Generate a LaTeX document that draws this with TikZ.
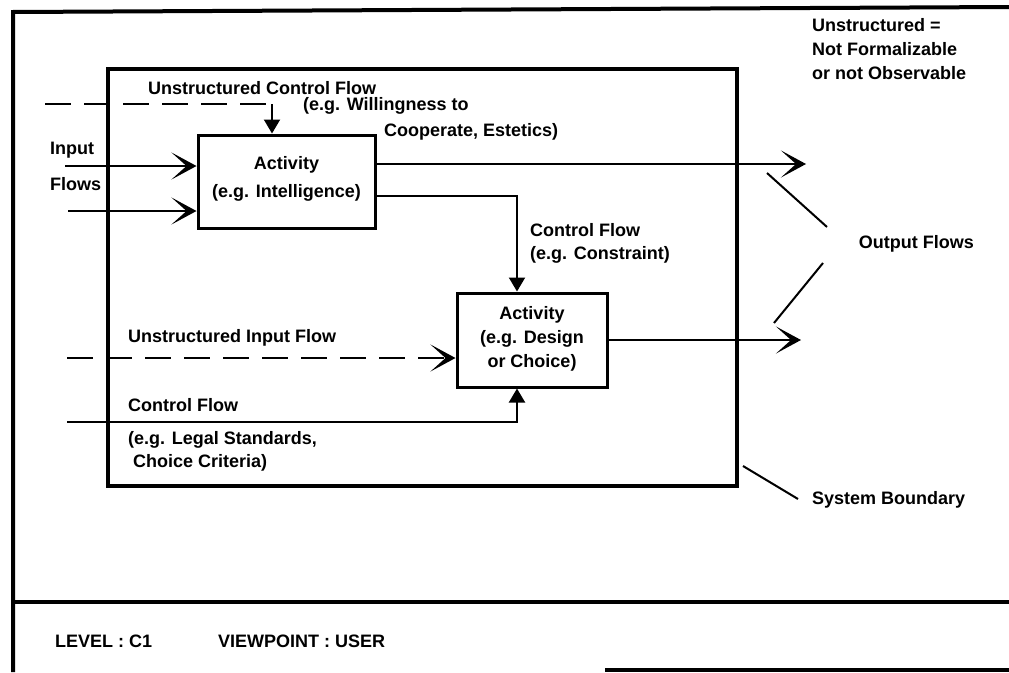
\documentclass[tikz,border=0pt]{standalone}
\usepackage{fontspec}
\setmainfont{Liberation Sans}
\usetikzlibrary{arrows.meta}
\tikzset{
  x=1pt, y=-1pt,
  lbl/.style={anchor=west, inner sep=0pt, font=\bfseries\fontsize{18}{23}\selectfont},
  actbox/.style={draw, line width=3pt, inner sep=0pt},
  acttext/.style={inner sep=0pt, align=center, font=\bfseries\fontsize{18}{24}\selectfont},
  flow/.style={line width=2pt},
  bigtip/.style={-{Stealth[length=25pt,width=27pt,inset=15pt]}},
  smalltip/.style={-{Triangle[length=14pt,width=16pt]}},
  dashflow/.style={line width=2pt, dash pattern=on 26pt off 13pt},
  pointer/.style={line width=2pt},
}
\begin{document}
\begin{tikzpicture}
\useasboundingbox (0,0) rectangle (1009,672);
% outer frame
\coordinate (ftr) at (1009,7);
\coordinate (ftl) at (13,12);
\coordinate (fbl) at (13,672);
\coordinate (fsl) at (13,602);
\coordinate (fsr) at (1009,602);
\coordinate (fbr) at (1009,670);
\coordinate (fbm) at (605,670);
\draw[line width=4pt] (ftr) -- (ftl) -- (fbl);
\draw[line width=4pt] (fsl) -- (fsr);
\draw[line width=4pt] (fbm) -- (fbr);
% system boundary
\node[draw, line width=4pt, minimum width=629pt, minimum height=417pt, inner sep=0pt] (sys) at (422.5,277.5) {};
% activities
\node[actbox, minimum width=177pt, minimum height=93pt] (act1) at (286.5,181.5) {};
\node[acttext] (act1t) at (286.5,179) {Activity\\[4pt](e.g. Intelligence)};
\node[actbox, minimum width=150pt, minimum height=94pt] (act2) at (532,340) {};
\node[acttext] (act2t) at (532,339) {Activity\\(e.g. Design\\or Choice)};
% coordinates
\coordinate (in1) at (65,166);
\coordinate (in2) at (68,211);
\coordinate (uc) at (45,104);
\coordinate (ucb) at (272,104);
\coordinate (o1) at (806,164);
\coordinate (cfb) at (517,196);
\coordinate (o2) at (801,340);
\coordinate (ui) at (67,358);
\coordinate (cb) at (67,422);
\coordinate (cbb) at (517,422);
% flows
\draw[flow,bigtip] (in1) -- (in1 -| act1.west);
\draw[flow,bigtip] (in2) -- (in2 -| act1.west);
\draw[dashflow] (uc) -- (ucb);
\draw[flow,smalltip] (ucb) -- (ucb |- act1.north);
\draw[flow,bigtip] (o1 -| act1.east) -- (o1);
\draw[flow,smalltip] (cfb -| act1.east) -- (cfb) -- (cfb |- act2.north);
\draw[flow,bigtip] (o2 -| act2.east) -- (o2);
\draw[dashflow,bigtip] (ui) -- (ui -| act2.west);
\draw[flow,smalltip] (cb) -- (cbb) -- (cbb |- act2.south);
% labels
\node[lbl] (tucf) at (148,88) {Unstructured Control Flow};
\node[lbl] (tucf2) at (303,106) {(e.g. Willingness to};
\node[lbl] (tucf3) at (384,132) {Cooperate, Estetics)};
\node[lbl] (tin1) at (50,150) {Input};
\node[lbl] (tin2) at (50,184) {Flows};
\node[lbl] (tcf) at (530,230) {Control Flow};
\node[lbl] (tcf2) at (530,255) {(e.g. Constraint)};
\node[lbl] (tui) at (128,338) {Unstructured Input Flow};
\node[lbl] (tcb) at (128,405) {Control Flow};
\node[lbl] (tcb2) at (128,440) {(e.g. Legal Standards,};
\node[lbl] (tcb3) at (133,463) {Choice Criteria)};
\node[lbl] (tuns1) at (812,25) {Unstructured =};
\node[lbl] (tuns2) at (812,49) {Not Formalizable};
\node[lbl] (tuns3) at (812,73) {or not Observable};
\node[lbl, anchor=east] (tout) at (974,244) {Output Flows};
\node[lbl] (tsb) at (812,500) {System Boundary};
\node[lbl] (tlev) at (55,641) {LEVEL : C1};
\node[lbl] (tvp) at (218,641) {VIEWPOINT : USER};
% pointer lines
\coordinate (p1a) at (767,173);
\coordinate (p1b) at (827,227);
\coordinate (p2a) at (774,323);
\coordinate (p2b) at (823,263);
\coordinate (p3a) at (743,466);
\coordinate (p3b) at (798,499);
\draw[pointer] (p1a) -- (p1b);
\draw[pointer] (p2a) -- (p2b);
\draw[pointer] (p3a) -- (p3b);
\end{tikzpicture}
\end{document}
